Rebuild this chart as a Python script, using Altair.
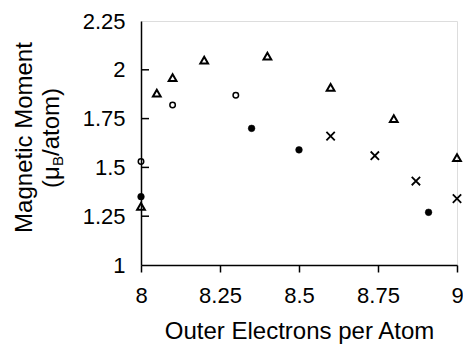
import altair as alt
import pandas as pd

# Open triangles
tri_x = [8.0, 8.05, 8.1, 8.2, 8.4, 8.6, 8.8, 9.0]
tri_y = [1.30, 1.88, 1.96, 2.05, 2.07, 1.91, 1.75, 1.55]
# Filled circles
fc_x = [8.0, 8.35, 8.5, 8.91]
fc_y = [1.35, 1.70, 1.59, 1.27]
# Open circles
oc_x = [8.0, 8.1, 8.3]
oc_y = [1.53, 1.82, 1.87]
# Crosses
cr_x = [8.6, 8.74, 8.87, 9.0]
cr_y = [1.66, 1.56, 1.43, 1.34]

x_ticks = [8, 8.25, 8.5, 8.75, 9]
y_ticks = [1, 1.25, 1.5, 1.75, 2, 2.25]
y_inner_ticks = [1.25, 1.5, 1.75, 2]

# second line of the y title: "(μ" + subscript "B" + "/atom)"
unit_parts = ["(μ", "B", "/atom)"]

FONT = "Liberation Sans"

xs = alt.Scale(domain=[8, 9], nice=False, zero=False)
ys = alt.Scale(domain=[1, 2.25], nice=False, zero=False)

xaxis = alt.Axis(values=x_ticks, title="Outer Electrons per Atom", grid=False,
                 tickSize=7, tickColor="black", tickWidth=1.5,
                 domainColor="black", domainWidth=1.5,
                 labelFont=FONT, labelFontSize=22, labelColor="black",
                 labelPadding=13, labelExpr="datum.value",
                 titleFont=FONT, titleFontSize=24, titleFontWeight="normal",
                 titleColor="black", titlePadding=13, labelFlush=False)
yaxis = alt.Axis(values=y_ticks, title="Magnetic Moment", grid=False,
                 ticks=False, tickSize=0,
                 domainColor="black", domainWidth=1.5,
                 labelFont=FONT, labelFontSize=22, labelColor="black",
                 labelPadding=16, labelExpr="datum.value", labelFlush=False,
                 titleFont=FONT, titleFontSize=24, titleFontWeight="normal",
                 titleColor="black", titleX=-117, titleY=116,
                 titleAngle=270, titleAlign="center", titleBaseline="middle")

def base(xv, yv):
    return alt.Chart(pd.DataFrame({"x": xv, "y": yv}))

enc_x = alt.X("x:Q", scale=xs, axis=xaxis)
enc_y = alt.Y("y:Q", scale=ys, axis=yaxis)

tri = base(tri_x, tri_y).mark_point(shape="triangle-up", size=60, filled=False,
                                     stroke="black", strokeWidth=2, opacity=1).encode(x=enc_x, y=enc_y)
fc = base(fc_x, fc_y).mark_point(shape="circle", size=45, filled=True,
                                  fill="black", stroke="black", strokeWidth=0.5, opacity=1).encode(x="x:Q", y="y:Q")
oc = base(oc_x, oc_y).mark_point(shape="circle", size=30, filled=False,
                                  stroke="black", strokeWidth=1.5, opacity=1).encode(x="x:Q", y="y:Q")
cr = base(cr_x, cr_y).mark_point(shape="M-1,-1L1,1M-1,1L1,-1", size=70, filled=False,
                                  stroke="black", strokeWidth=1.8, opacity=1).encode(x="x:Q", y="y:Q")
ytk = alt.Chart(pd.DataFrame({"y": y_inner_ticks})).mark_rule(color="black", strokeWidth=1.5).encode(
    y="y:Q", x=alt.value(0), x2=alt.value(8))

# unit line of the y title, drawn as rotated text pieces
t1 = alt.Chart(pd.DataFrame({"t": [unit_parts[0]]})).mark_text(
    font=FONT, fontSize=24, angle=270, align="left", baseline="middle", color="black"
).encode(text="t:N", x=alt.value(-89), y=alt.value(167))
t2 = alt.Chart(pd.DataFrame({"t": [unit_parts[1]]})).mark_text(
    font=FONT, fontSize=15, angle=270, align="left", baseline="middle", color="black"
).encode(text="t:N", x=alt.value(-83), y=alt.value(145))
t3 = alt.Chart(pd.DataFrame({"t": [unit_parts[2]]})).mark_text(
    font=FONT, fontSize=24, angle=270, align="left", baseline="middle", color="black"
).encode(text="t:N", x=alt.value(-89), y=alt.value(135))

chart = alt.layer(tri, fc, oc, cr, ytk, t1, t2, t3).properties(
    width=316, height=244,
    autosize=alt.AutoSizeParams(type="none"),
    padding={"left": 141, "top": 21, "right": 6, "bottom": 80},
).configure_view(stroke="black", strokeWidth=1.5).configure(background="white")

chart.save("out.html", embed_options={"renderer": "svg", "actions": False})
